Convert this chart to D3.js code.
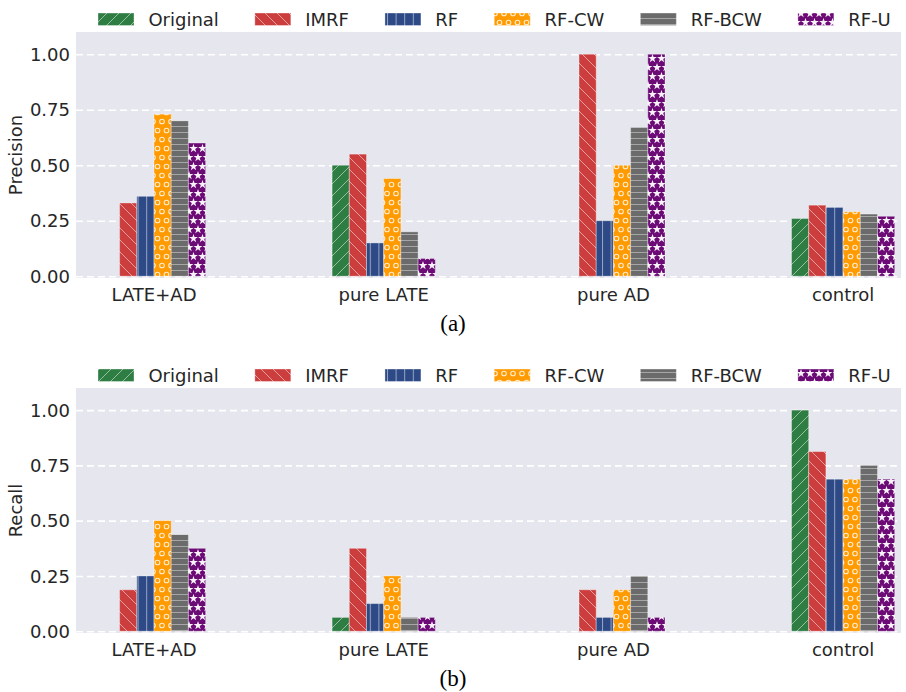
<html>
<head>
  <meta charset="utf-8">
  <title>Precision and recall</title>
  <script src="https://d3js.org/d3.v7.min.js"></script>
  <style>
    body { margin: 0; background: #fff; }
    text { font-family: "DejaVu Sans", sans-serif; fill: #262626; }
  </style>
</head>
<body>
  <script>
    // categories and methods
    const groups = ["LATE+AD", "pure LATE", "pure AD", "control"];
    const methods = ["Original", "IMRF", "RF", "RF-CW", "RF-BCW", "RF-U"];
    const colors = ["#2e7d43", "#cc3d3d", "#2d4a86", "#ff9a00", "#6b6b6b", "#6c0a76"];
    const yTicks = [0, 0.25, 0.5, 0.75, 1.0];

    // precision per method (one value per group)
    const precOriginal = [0, 0.50, 0, 0.26];
    const precIMRF = [0.33, 0.55, 1.00, 0.32];
    const precRF = [0.36, 0.15, 0.25, 0.31];
    const precRFCW = [0.73, 0.44, 0.50, 0.29];
    const precRFBCW = [0.70, 0.20, 0.67, 0.28];
    const precRFU = [0.60, 0.08, 1.00, 0.27];

    // recall per method
    const recOriginal = [0, 0.0625, 0, 1.00];
    const recIMRF = [0.1875, 0.375, 0.1875, 0.8125];
    const recRF = [0.25, 0.125, 0.0625, 0.6875];
    const recRFCW = [0.50, 0.25, 0.1875, 0.6875];
    const recRFBCW = [0.4375, 0.0625, 0.25, 0.75];
    const recRFU = [0.375, 0.0625, 0.0625, 0.6875];

    const precision = [precOriginal, precIMRF, precRF, precRFCW, precRFBCW, precRFU];
    const recall = [recOriginal, recIMRF, recRF, recRFCW, recRFBCW, recRFU];

    var width = 906, height = 692;
    var left = 76, right = 901;

    var svg = d3.select('body').append('svg')
      .attr('width', width).attr('height', height);

    var defs = svg.append('defs');
    var hatch = 'rgba(255,255,255,0.5)';

    // hatch patterns, one per method
    function pat(id, w, h) {
      var p = defs.append('pattern').attr('id', id)
        .attr('patternUnits', 'userSpaceOnUse')
        .attr('width', w).attr('height', h);
      return p;
    }
    var p0 = pat('h0', 12, 12);
    p0.append('rect').attr('width', 12).attr('height', 12).attr('fill', colors[0]);
    p0.append('path').attr('d', 'M0,12L12,0M-6,6L6,-6M6,18L18,6').attr('stroke', hatch).attr('stroke-width', 1);

    var p1 = pat('h1', 12, 12);
    p1.append('rect').attr('width', 12).attr('height', 12).attr('fill', colors[1]);
    p1.append('path').attr('d', 'M0,0L12,12M-6,6L6,18M6,-6L18,6').attr('stroke', hatch).attr('stroke-width', 1);

    var p2 = pat('h2', 8.6, 10);
    p2.append('rect').attr('width', 8.6).attr('height', 10).attr('fill', colors[2]);
    p2.append('path').attr('d', 'M0.5,0V10').attr('stroke', hatch).attr('stroke-width', 1);

    var p3 = pat('h3', 9, 18);
    p3.append('rect').attr('width', 9).attr('height', 18).attr('fill', colors[3]);
    [[4.5, 4.5], [0, 13.5], [9, 13.5]].forEach(function (c) {
      p3.append('circle').attr('cx', c[0]).attr('cy', c[1]).attr('r', 2.3)
        .attr('fill', 'none').attr('stroke', 'rgba(255,255,255,0.8)').attr('stroke-width', 1.1);
    });

    var p4 = pat('h4', 10, 6);
    p4.append('rect').attr('width', 10).attr('height', 6).attr('fill', colors[4]);
    p4.append('path').attr('d', 'M0,0.5H10').attr('stroke', 'rgba(255,255,255,0.4)').attr('stroke-width', 1);

    var p5 = pat('h5', 9, 18);
    p5.append('rect').attr('width', 9).attr('height', 18).attr('fill', colors[5]);
    var star = d3.symbol(d3.symbolStar).size(24)();
    [[4.5, 4.5], [0, 13.5], [9, 13.5]].forEach(function (c) {
      p5.append('path').attr('d', star).attr('transform', 'translate(' + c + ')')
        .attr('fill', 'rgba(255,255,255,0.95)');
    });

    // x scales: groups and methods inside a group
    var x0 = d3.scaleBand().domain(groups).range([39.15, 957.95]);
    var x1 = d3.scaleBand().domain(methods).range([-51.6, 51.6]);

    function drawPanel(values, top, bottom, ylabel, caption, legendY) {
      var y = d3.scaleLinear().domain([-0.008, 1.1]).range([bottom, top]);
      var g = svg.append('g');

      g.append('rect').attr('x', left).attr('y', top)
        .attr('width', right - left).attr('height', bottom - top)
        .attr('fill', '#e6e6ef');

      var yAxis = d3.axisLeft(y).tickValues(yTicks).tickFormat(d3.format('.2f'))
        .tickSize(-(right - left)).tickPadding(6);
      var ya = g.append('g').attr('transform', 'translate(' + left + ',0)').call(yAxis);
      ya.select('.domain').remove();
      ya.selectAll('line').attr('stroke', '#fff').attr('stroke-width', 1.6)
        .attr('stroke-dasharray', '7,4');
      ya.selectAll('text').style('font-size', '18px').attr('fill', '#262626')
        .attr('font-family', 'DejaVu Sans').attr('dy', '0.34em');

      var xAxis = d3.axisBottom(x0).tickSize(0).tickPadding(10);
      var xa = g.append('g').attr('transform', 'translate(0,' + bottom + ')').call(xAxis);
      xa.select('.domain').remove();
      xa.selectAll('text').style('font-size', '18px').attr('fill', '#262626')
        .attr('font-family', 'DejaVu Sans');

      // bars
      methods.forEach(function (m, j) {
        g.append('g').selectAll('rect')
          .data(values[j])
          .enter()
          .append('rect')
          .attr('x', function (d, i) { return x0(groups[i]) + x0.bandwidth() / 2 + x1(m); })
          .attr('width', x1.bandwidth())
          .attr('y', function (d) { return y(d); })
          .attr('height', function (d) { return Math.max(0, y(0) - y(d)); })
          .attr('fill', 'url(#h' + j + ')')
          .attr('stroke', 'rgba(255,255,255,0.35)')
          .attr('stroke-width', function (d) { return d > 0 ? 1 : 0; });
      });

      g.append('text')
        .attr('transform', 'translate(22,' + ((top + bottom) / 2) + ') rotate(-90)')
        .attr('text-anchor', 'middle')
        .style('font-size', '18px')
        .text(ylabel);

      g.append('text')
        .attr('x', 453).attr('y', bottom + 53)
        .attr('text-anchor', 'middle')
        .style('font-family', '"Liberation Serif", serif')
        .style('font-size', '23px')
        .style('fill', '#000')
        .text(caption);

      // legend in a single row
      var lx = 98;
      methods.forEach(function (m, j) {
        g.append('rect').attr('x', lx).attr('y', legendY - 6)
          .attr('width', 36).attr('height', 12.5)
          .attr('fill', 'url(#h' + j + ')')
          .attr('stroke', 'rgba(255,255,255,0.35)');
        var t = g.append('text').attr('x', lx + 50.4).attr('y', legendY + 6.5)
          .style('font-size', '18px').text(m);
        lx += 50.4 + t.node().getComputedTextLength() + 36;
      });
    }

    drawPanel(precision, 32, 278, 'Precision', '(a)', 19);
    drawPanel(recall, 388, 633, 'Recall', '(b)', 375);
  </script>
</body>
</html>
